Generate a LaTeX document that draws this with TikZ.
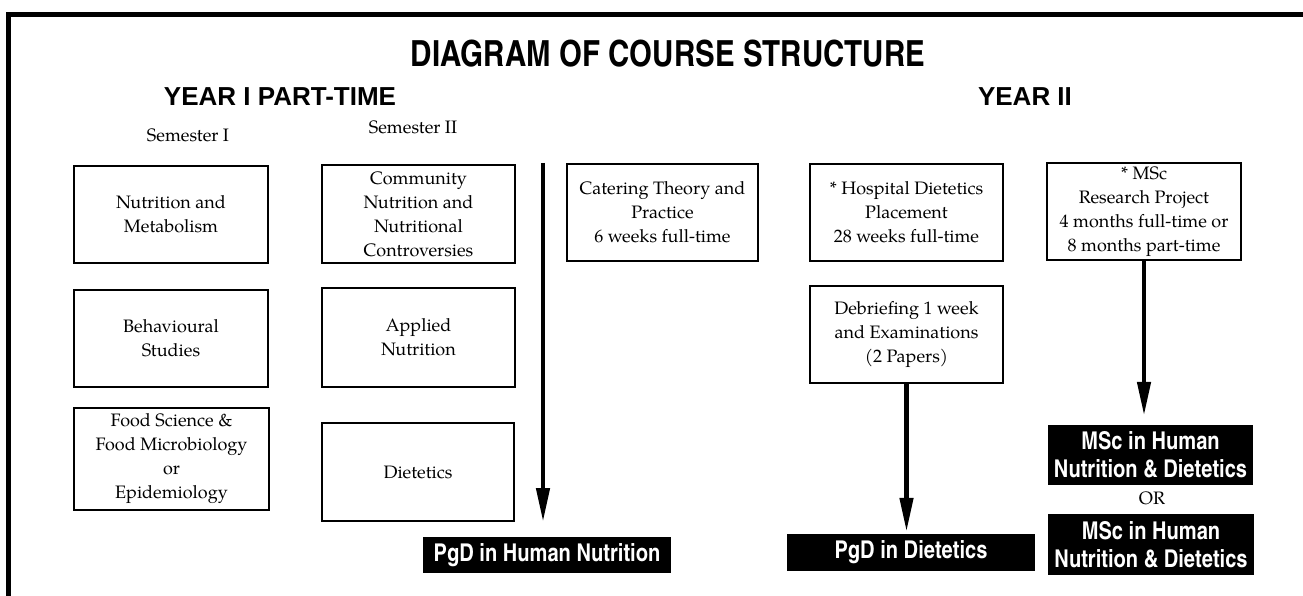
\documentclass[tikz,border=0pt]{standalone}
\usepackage{fontspec}
\setmainfont{TeX Gyre Pagella}
\newfontfamily\condsans{TeX Gyre Heros Cn}
\newfontfamily\headsans{Liberation Sans}
\usetikzlibrary{arrows.meta}

\begin{document}
\begin{tikzpicture}[x=1pt,y=-1pt,
  course/.style={draw, line width=1.6pt, align=center, inner sep=0pt,
    font=\fontsize{18}{24}\selectfont},
  award/.style={fill=black, text=white, align=center, inner sep=0pt,
    font=\condsans\bfseries\fontsize{24.5}{28}\selectfont},
  flow/.style={line width=4.5pt, -{Triangle[length=34pt,width=13pt]}},
  heading/.style={inner sep=0pt, anchor=base, font=\headsans\bfseries\fontsize{26}{30}\selectfont},
  semlabel/.style={inner sep=0pt, anchor=base, font=\fontsize{18}{24}\selectfont}
]
\useasboundingbox (0,0) rectangle (1303,596);

% outer frame (top and left edges)
\draw[line width=4.5pt, line join=miter] (8.5,596) -- (8.5,14.5) -- (1303,14.5);

% headings
\node[inner sep=0pt, anchor=base, font=\condsans\bfseries\fontsize{36}{40}\selectfont]
  (title) at (668,67) {DIAGRAM OF COURSE STRUCTURE};
\node[heading] (year1) at (280,106) {YEAR I PART-TIME};
\node[heading] (year2) at (1025,106) {YEAR II};
\node[semlabel] (sem1) at (188,142) {Semester I};
\node[semlabel] (sem2) at (413,134) {Semester II};

% Year I, semester I
\node[course, minimum width=194pt, minimum height=97pt] (nm) at (171,214.5)
  {Nutrition and\\Metabolism};
\node[course, minimum width=194pt, minimum height=97pt] (bs) at (171,338.5)
  {Behavioural\\Studies};
\node[course, minimum width=195pt, minimum height=102pt] (fs) at (171.5,459)
  {Food Science \&\\Food Microbiology\\or\\Epidemiology};

% Year I, semester II
\node[course, minimum width=193pt, minimum height=98pt] (cn) at (418.5,214)
  {Community\\Nutrition and\\Nutritional\\Controversies};
\node[course, minimum width=193pt, minimum height=99pt] (an) at (418.5,337.5)
  {Applied\\Nutrition};
\node[course, minimum width=192pt, minimum height=98pt] (di) at (418,472)
  {Dietetics};

% Catering block
\node[course, minimum width=191pt, minimum height=97pt] (ct) at (662.5,212.5)
  {Catering Theory and\\Practice\\6 weeks full-time};

% Year II
\node[course, minimum width=193pt, minimum height=97pt] (hd) at (906.5,212.5)
  {* Hospital Dietetics\\Placement\\28 weeks full-time};
\node[course, minimum width=193pt, minimum height=97pt] (db) at (906.5,334.5)
  {Debriefing 1 week\\and Examinations\\(2 Papers)};
\node[course, minimum width=194pt, minimum height=97pt] (ms) at (1144,211.5)
  {* MSc\\Research Project\\4 months full-time or\\8 months part-time};

% awards
\node[award, minimum width=248pt, minimum height=36pt] (pgdhn) at (547,555)
  {PgD in Human Nutrition};
\node[award, minimum width=248pt, minimum height=37pt] (pgdd) at (911,552.5)
  {PgD in Dietetics};
\node[award, minimum width=205pt, minimum height=60pt] (msc1) at (1150.5,455)
  {MSc in Human\\Nutrition \& Dietetics};
\node[semlabel, anchor=center] (or) at (1152,498) {OR};
\node[award, minimum width=206pt, minimum height=61pt] (msc2) at (1151,544.5)
  {MSc in Human\\Nutrition \& Dietetics};

% flow arrows
\coordinate (ytop) at (543,163);
\coordinate (yend) at (543,522);
\draw[flow] (ytop) -- (yend);
\draw[flow, shorten >=2pt] (db.south) -- (db.south |- pgdd.north);
\draw[flow, shorten >=9pt] (ms.south) -- (ms.south |- msc1.north);
\end{tikzpicture}
\end{document}
